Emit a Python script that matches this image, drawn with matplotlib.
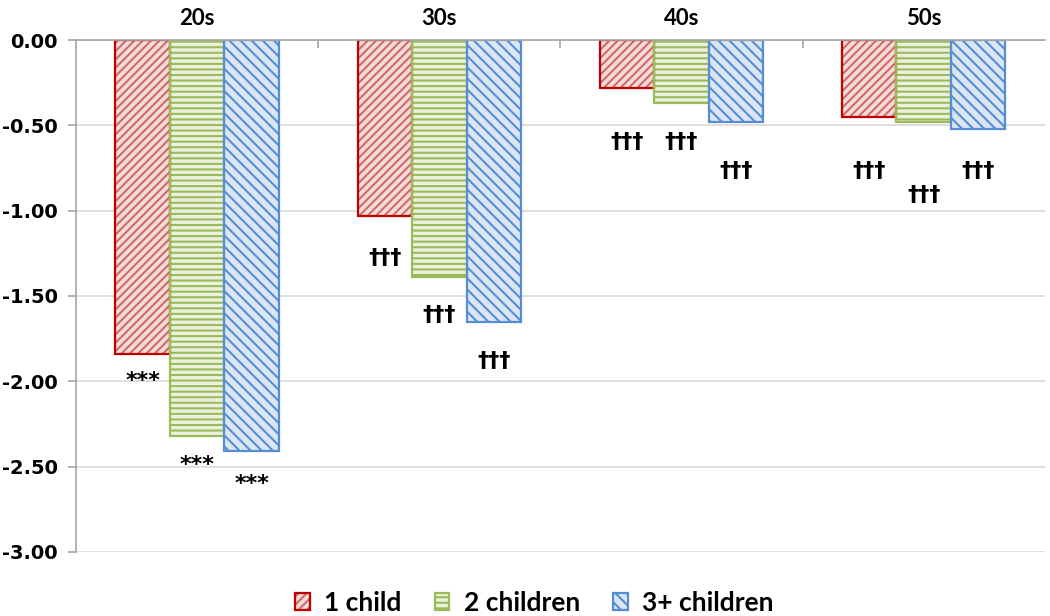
import matplotlib
matplotlib.use("Agg")
import matplotlib.pyplot as plt
import numpy as np

categories = ["20s", "30s", "40s", "50s"]
series_names = ["1 child", "2 children", "3+ children"]
one_child = [-1.84, -1.03, -0.28, -0.45]
two_children = [-2.32, -1.39, -0.37, -0.48]
three_children = [-2.41, -1.65, -0.48, -0.52]
sig_labels = [["***", "***", "***"],
              ["†††", "†††", "†††"],
              ["†††", "†††", "†††"],
              ["†††", "†††", "†††"]]
sig_label_y = [[-2.00, -2.49, -2.60],
               [-1.28, -1.61, -1.88],
               [-0.60, -0.60, -0.77],
               [-0.77, -0.91, -0.77]]
yticks = [0.0, -0.5, -1.0, -1.5, -2.0, -2.5, -3.0]

faces = ["#f2dcdb", "#ebf1de", "#dce6f2"]
edges = ["#c00000", "#9bbb59", "#558ed5"]
hatch_colors = ["#d46a68", "#9bbb59", "#558ed5"]
hatches = ["////", "---", "\\\\\\"]

plt.rcParams["hatch.linewidth"] = 1.5
fig = plt.figure(figsize=(10.5, 6.16), dpi=100)
ax = fig.add_axes([0.0724, 0.104, 0.995 - 0.0724, 0.935 - 0.104])

series = [one_child, two_children, three_children]
x = np.arange(len(categories))
w = 0.225
handles = []
for k, vals in enumerate(series):
    pos = x + (k - 1) * w
    b1 = ax.bar(pos, vals, width=w, facecolor=faces[k], edgecolor=hatch_colors[k],
                hatch=hatches[k], linewidth=0, zorder=3)
    b2 = ax.bar(pos, vals, width=w, fill=False, edgecolor=edges[k], linewidth=1.6, zorder=3.5)
    handles.append((b1, b2))
    for i in range(len(categories)):
        ax.text(pos[i], sig_label_y[i][k], sig_labels[i][k], ha="center", va="center",
                fontsize=16, fontweight="bold", family="DejaVu Sans", zorder=4)

ax.set_ylim(-3.0, 0.0)
ax.set_xlim(-0.5, 3.5)
ax.set_yticks(yticks)
ax.set_yticklabels([f"{v:.2f}" for v in yticks], fontsize=14, fontweight="bold", family="DejaVu Sans")
ax.yaxis.grid(True, color="#d9d9d9", linewidth=1.2, zorder=0)
ax.set_axisbelow(True)

ax.xaxis.tick_top()
ax.set_xticks(x)
ax.set_xticklabels(categories, fontsize=16, fontweight="bold", family="Lato")
ax.tick_params(axis="x", which="major", length=0, pad=8)
ax.set_xticks([0.5, 1.5, 2.5], minor=True)
ax.tick_params(axis="x", which="minor", direction="in", length=6, color="#a6a6a6", width=1.2)
ax.tick_params(axis="y", length=6, color="#a6a6a6", width=1.2, pad=7)

for s in ["right", "bottom"]:
    ax.spines[s].set_visible(False)
for s in ["top", "left"]:
    ax.spines[s].set_color("#a6a6a6")
    ax.spines[s].set_linewidth(1.2)
ax.spines["top"].set_zorder(5)

leg = fig.legend(handles=handles, labels=series_names, loc="center", bbox_to_anchor=(0.509, 0.021),
                 ncol=3, frameon=False, prop={"family": "Lato", "weight": "bold", "size": 19},
                 handlelength=0.55, handleheight=0.6, columnspacing=1.25, handletextpad=0.55)

fig.savefig("out.png", dpi=100)
